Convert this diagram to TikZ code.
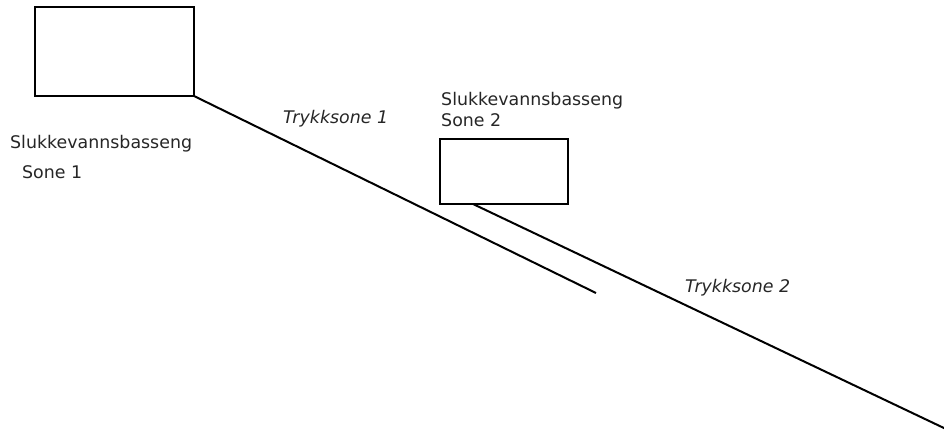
\documentclass[tikz,border=0pt]{standalone}
\usepackage{fontspec}
\setmainfont{DejaVu Sans}
\begin{document}
\begin{tikzpicture}[x=1pt,y=-1pt,
  tank/.style={draw, line width=2pt, inner sep=0pt, outer sep=0pt},
  pipe/.style={line width=2pt},
  label/.style={anchor=base west, inner sep=0pt, text=black!85, font=\fontsize{17.4}{21}\selectfont},
  zone/.style={label, font=\fontsize{17.4}{21}\selectfont\itshape}]
  \useasboundingbox (0,0) rectangle (944,437);

  % reservoirs
  \node[tank, minimum width=159pt, minimum height=89pt] (b1) at (114.5,51.5) {};
  \node[tank, minimum width=128pt, minimum height=65pt] (b2) at (504,171.5) {};

  % pipe ends
  \coordinate (e1) at (596,293);
  \coordinate (s2) at (473,204);
  \coordinate (e2) at (946,429);

  \draw[pipe] (b1.south east) -- (e1);
  \draw[pipe] (s2) -- (e2);

  % labels
  \node[label] (t1) at (10,148) {Slukkevannsbasseng};
  \node[label] (t2) at (22,178) {Sone 1};
  \node[label] (t3) at (441,105) {Slukkevannsbasseng};
  \node[label] (t4) at (441,126) {Sone 2};
  \node[zone] (z1) at (283,123) {Trykksone 1};
  \node[zone] (z2) at (685,292) {Trykksone 2};
\end{tikzpicture}
\end{document}
